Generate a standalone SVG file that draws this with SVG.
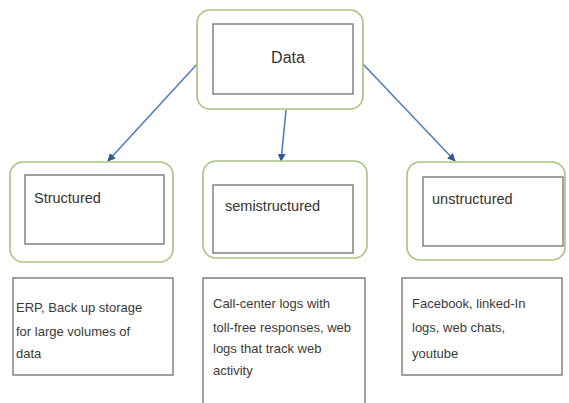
<svg xmlns="http://www.w3.org/2000/svg" width="569" height="403" viewBox="0 0 569 403">
<defs>
<style>
.outer{fill:#fff;stroke:#a9c47f;stroke-width:1.6}
.inner{fill:#fff;stroke:#7a7a7a;stroke-width:1.4}
.box{fill:#fff;stroke:#7a7a7a;stroke-width:1.4}
.lbl{font-family:"Liberation Sans",Arial,sans-serif;font-size:14.5px;fill:#333}
.txt{font-family:"Liberation Sans",Arial,sans-serif;font-size:13px;fill:#3a3a3a}
.conn{stroke:#4f7fbf;stroke-width:1.6;fill:none;marker-end:url(#ah)}
</style>
<marker id="ah" viewBox="0 0 10 10" refX="9" refY="5" markerWidth="5" markerHeight="5" orient="auto" markerUnits="strokeWidth">
<path d="M0,0 L10,5 L0,10 z" fill="#2f5a94"/>
</marker>
</defs>
<rect width="569" height="403" fill="#fff"/>
<g id="connectors">
<line class="conn" x1="199" y1="62" x2="108" y2="161"/>
<line class="conn" x1="286" y1="110" x2="281" y2="161"/>
<line class="conn" x1="362" y1="63" x2="455" y2="161"/>
</g>
<g id="data">
<rect class="outer" x="197" y="10" width="166" height="99" rx="13"/>
<rect class="inner" x="213" y="24" width="140" height="70"/>
<text class="lbl" x="288" y="63" text-anchor="middle" style="font-size:16px">Data</text>
</g>
<g id="structured">
<rect class="outer" x="10" y="162" width="163" height="100" rx="13"/>
<rect class="inner" x="25" y="175" width="139" height="69"/>
<text class="lbl" x="34" y="203">Structured</text>
</g>
<g id="semistructured">
<rect class="outer" x="203" y="161" width="164" height="97" rx="13"/>
<rect class="inner" x="213" y="185" width="140" height="68"/>
<text class="lbl" x="225" y="211">semistructured</text>
</g>
<g id="unstructured">
<rect class="outer" x="407" y="162" width="158" height="98" rx="13"/>
<rect class="inner" x="423" y="177" width="140" height="69"/>
<text class="lbl" x="432" y="204">unstructured</text>
</g>
<g id="structured-examples">
<rect class="box" x="13" y="278" width="160" height="97"/>
<text class="txt"><tspan x="16" y="312">ERP, Back up storage</tspan><tspan x="16" y="336">for large volumes of</tspan><tspan x="16" y="358">data</tspan></text>
</g>
<g id="semistructured-examples">
<path class="box" d="M203,403 V278 H365 V403"/>
<text class="txt"><tspan x="213" y="308">Call-center logs with</tspan><tspan x="213" y="332">toll-free responses, web</tspan><tspan x="213" y="353">logs that track web</tspan><tspan x="213" y="375">activity</tspan></text>
</g>
<g id="unstructured-examples">
<rect class="box" x="402" y="278" width="160" height="97"/>
<text class="txt"><tspan x="412" y="308">Facebook, linked-In</tspan><tspan x="412" y="332">logs, web chats,</tspan><tspan x="412" y="358">youtube</tspan></text>
</g>
</svg>
